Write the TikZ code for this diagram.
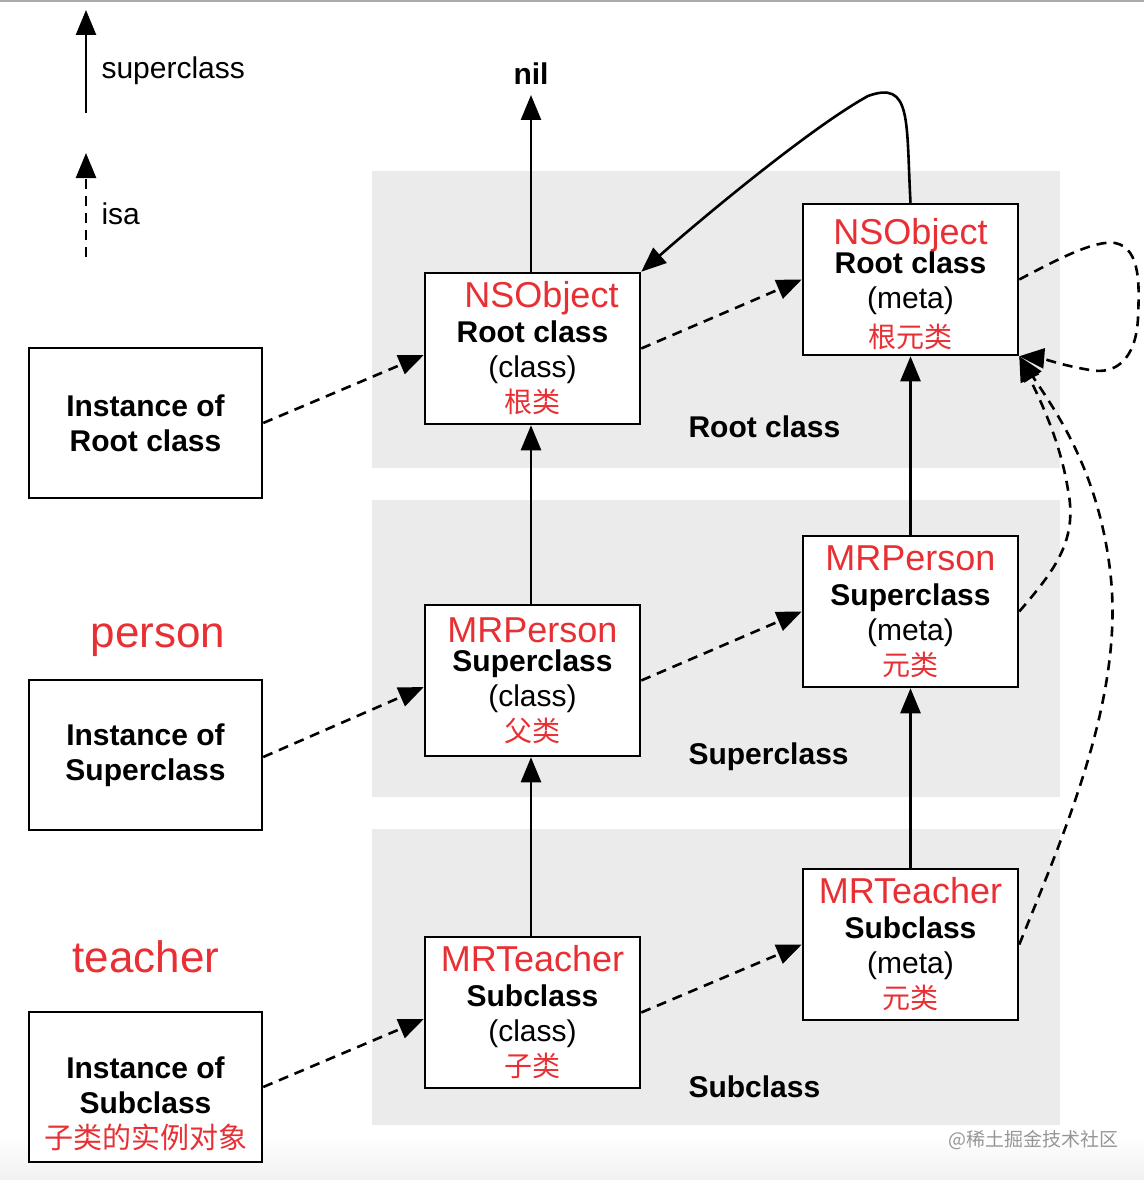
\documentclass[tikz,border=0pt]{standalone}
\usepackage{fontspec}
\setmainfont{Liberation Sans}
\newfontfamily\cjk{Noto Sans CJK SC}
\usetikzlibrary{arrows.meta}
\definecolor{tred}{RGB}{232,48,52}
\definecolor{band}{RGB}{235,235,235}
\definecolor{wm}{RGB}{150,150,150}
\newcommand\rt[1]{{\color{tred}\fontsize{36}{35}\selectfont #1}}
\newcommand\bt[1]{{\bfseries #1}}
\newcommand\ct[1]{{\color{tred}\cjk\fontsize{28}{35}\selectfont #1}}
\tikzset{
  cbox/.style={draw, line width=2.5pt, fill=white, minimum width=215pt, minimum height=151pt, inner sep=0pt, align=center, font=\fontsize{30}{35}\selectfont},
  ibox/.style={cbox, minimum width=233pt, minimum height=150pt},
  btxt/.style={font=\bfseries\fontsize{30}{35}\selectfont},
  sup/.style={line width=2.6pt, -{Triangle[length=25pt,width=20pt]}},
  isa/.style={sup, dash pattern=on 10pt off 7pt},
  bandbox/.style={fill=band, draw=none}
}
\begin{document}
\begin{tikzpicture}[x=1pt,y=-1pt]
\useasboundingbox (0,0) rectangle (1144,1180);
\shade[top color=white, bottom color=band!70] (0,1135) rectangle (1144,1180);
\draw[wm!80, line width=1.5pt] (0,1) -- (1144,1);
% bands
\fill[bandbox] (372,171) rectangle (1060,468);
\fill[bandbox] (372,500) rectangle (1060,797);
\fill[bandbox] (372,829) rectangle (1060,1125);
% legend
\coordinate (l1a) at (86,113); \coordinate (l1b) at (86,10);
\coordinate (l2a) at (86,257); \coordinate (l2b) at (86,153);
\draw[sup] (l1a) -- (l1b);
\draw[isa] (l2a) -- (l2b);
\node[anchor=west, font=\fontsize{30}{35}\selectfont] (lsup) at (98,71) {superclass};
\node[anchor=west, font=\fontsize{30}{35}\selectfont] (lisa) at (98,214) {isa};
% labels
\node[btxt] (nil) at (531,74) {nil};
\node[font=\fontsize{44}{50}\selectfont, text=tred] (person) at (158,640) {person};
\node[font=\fontsize{44}{50}\selectfont, text=tred] (teacher) at (146,957) {teacher};
\node[btxt, anchor=west] (lroot) at (685,427) {Root class};
\node[btxt, anchor=west] (lsuper) at (685,757) {Superclass};
\node[btxt, anchor=west] (lsub) at (685,1087) {Subclass};
\node[font=\cjk\fontsize{19}{22}\selectfont, text=wm] (wmark) at (1033,1140) {@稀土掘金技术社区};
% instance boxes
\node[ibox] (inr) at (145.5,423) {\bt{Instance of}\\\bt{Root class}};
\node[ibox] (ins) at (145.5,755) {\bt{Instance of}\\\bt{Superclass}};
\node[ibox] (inb) at (145.5,1087) {};
\node[align=center, font=\fontsize{30}{35}\selectfont] (inbt) at (145.5,1104) {\bt{Instance of}\\\bt{Subclass}\\\ct{\fontsize{29}{35}\selectfont 子类的实例对象}};
% class boxes
\node[cbox] (nsc) at (532.5,348.5) {\hspace*{18pt}\rt{NSObject}\\\bt{Root class}\\(class)\\\ct{根类}};
\node[cbox] (nsm) at (910.5,279.5) {\rule{0pt}{36pt}\rt{NSObject}\\[-6pt]\bt{Root class}\\(meta)\\[4pt]\ct{根元类}};
\node[cbox] (pc) at (532.5,680.5) {\rt{MRPerson}\\[-6pt]\bt{Superclass}\\(class)\\\ct{父类}};
\node[cbox] (pm) at (910.5,611.5) {\rt{MRPerson}\\\bt{Superclass}\\(meta)\\\ct{元类}};
\node[cbox] (tc) at (532.5,1012.5) {\rt{MRTeacher}\\\bt{Subclass}\\(class)\\\ct{子类}};
\node[cbox] (tm) at (910.5,944.5) {\rt{MRTeacher}\\\bt{Subclass}\\(meta)\\\ct{元类}};
% superclass arrows
\coordinate (niltip) at (531,95);
\draw[sup] (nsc.north -| niltip) -- (niltip);
\draw[sup] (pc.north -| niltip) -- (nsc.south -| niltip);
\draw[sup] (tc.north -| niltip) -- (pc.south -| niltip);
\draw[sup] (pm.north) -- (nsm.south);
\draw[sup] (tm.north) -- (pm.south);
\draw[sup] (nsm.north) .. controls (906,120) and (912,80) .. (868,96) .. controls (810,128) and (700,220) .. (nsc.north east);
% isa arrows
\draw[isa] (inr.east) -- ([yshift=-6.5pt]nsc.west);
\draw[isa] ([yshift=-2pt]ins.east) -- ([yshift=-6.5pt]pc.west);
\draw[isa] (inb.east) -- ([yshift=-6.5pt]tc.west);
\draw[isa] (nsc.east) -- (nsm.west);
\draw[isa] (pc.east) -- (pm.west);
\draw[isa] (tc.east) -- (tm.west);
\draw[isa] (nsm.east) .. controls (1060,258) and (1095,240) .. (1115,243) .. controls (1142,248) and (1139,290) .. (1138,318) .. controls (1136,360) and (1115,375) .. (1090,370) .. controls (1065,366) and (1040,358) .. (nsm.south east);
\draw[isa] (pm.east) .. controls (1055,570) and (1078,540) .. (1068,490) .. controls (1060,440) and (1040,400) .. (nsm.south east);
\draw[isa] (tm.east) .. controls (1070,820) and (1125,690) .. (1110,570) .. controls (1098,470) and (1055,410) .. (nsm.south east);
\end{tikzpicture}
\end{document}
